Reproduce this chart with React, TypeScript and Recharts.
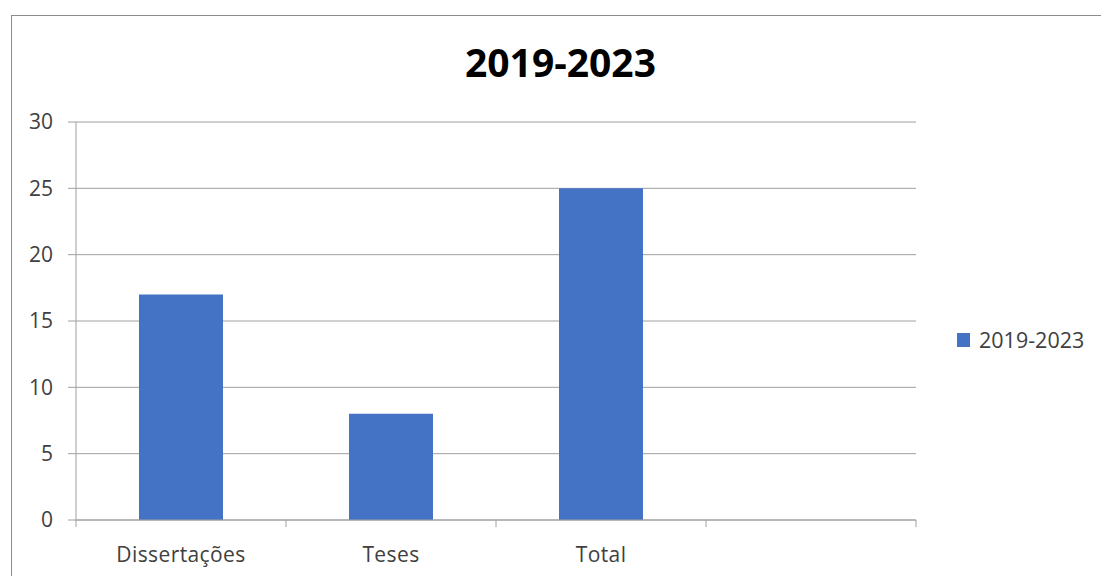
import { BarChart, Bar, XAxis, YAxis, CartesianGrid, Legend } from 'recharts';

const categories = ['Dissertações', 'Teses', 'Total', ''];
const values2019to2023: (number | null)[] = [17, 8, 25, null];
const yTicks = [0, 5, 10, 15, 20, 25, 30];
const seriesName = '2019-2023';
const chartTitle = '2019-2023';

const data = categories.map((name, i) => ({ name, value: values2019to2023[i] }));

const FONT = '"Open Sans", "DejaVu Sans", sans-serif';
const GRID = '#a0a0a0';
const BAR = '#4472C4';

// category labels in the middle, tick marks on the band edges (Excel style)
const CategoryTick = (props: any) => {
  const { x, y, payload, index } = props;
  const half = payload?.offset ?? 0;
  const last = index === categories.length - 1;
  return (
    <g>
      <line x1={x - half} x2={x - half} y1={y} y2={y + 7} stroke={GRID} />
      {last && <line x1={x + half} x2={x + half} y1={y} y2={y + 7} stroke={GRID} />}
      <text x={x} y={y + 42} textAnchor="middle" fill="#404040" fontSize={21} fontFamily={FONT} letterSpacing={0.4}>
        {payload.value}
      </text>
    </g>
  );
};

const LegendContent = (props: any) => {
  const items = props.payload || [];
  return (
    <div>
      {items.map((it: any) => (
        <div key={it.value} style={{ display: 'flex', alignItems: 'center' }}>
          <span style={{ width: 13, height: 14, background: it.color, display: 'inline-block', marginRight: 9 }} />
          <span style={{ fontFamily: FONT, fontSize: 21.5, color: '#404040', lineHeight: '24px' }}>{it.value}</span>
        </div>
      ))}
    </div>
  );
};

export default function App() {
  return (
    <div style={{ position: 'absolute', left: 0, top: 0, width: 1101, height: 576, overflow: 'hidden', background: '#fff' }}>
      <div
        style={{
          position: 'absolute',
          left: 11,
          top: 15,
          width: 1100,
          height: 570,
          border: '1px solid #8c8c8c',
        }}
      />
      <div
        style={{
          position: 'absolute',
          left: 0,
          width: 1121,
          top: 36,
          textAlign: 'center',
          fontFamily: FONT,
          fontWeight: 700,
          fontSize: 39,
          lineHeight: '52px',
          color: '#000',
        }}
      >
        {chartTitle}
      </div>
      <div style={{ position: 'absolute', left: 0, top: 0 }}>
        <BarChart
          width={1101}
          height={576}
          data={data}
          margin={{ top: 122, right: 185, bottom: 2, left: 16 }}
          barCategoryGap="30%"
        >
          <CartesianGrid horizontal vertical={false} stroke={GRID} />
          <XAxis
            dataKey="name"
            height={30}
            axisLine={{ stroke: GRID }}
            tickLine={false}
            tickSize={0}
            tickMargin={0}
            interval={0}
            tick={<CategoryTick />}
          />
          <YAxis
            width={60}
            domain={[0, 30]}
            ticks={yTicks}
            interval={0}
            axisLine={{ stroke: GRID }}
            tickLine={{ stroke: GRID }}
            tickSize={8}
            tickMargin={15}
            tick={{ fill: '#404040', fontSize: 21, fontFamily: FONT }}
          />
          <Legend
            layout="vertical"
            content={<LegendContent />}
            wrapperStyle={{ position: 'absolute', left: 957, top: 328, width: 140 }}
          />
          <Bar dataKey="value" name={seriesName} fill={BAR} isAnimationActive={false} />
        </BarChart>
      </div>
    </div>
  );
}
